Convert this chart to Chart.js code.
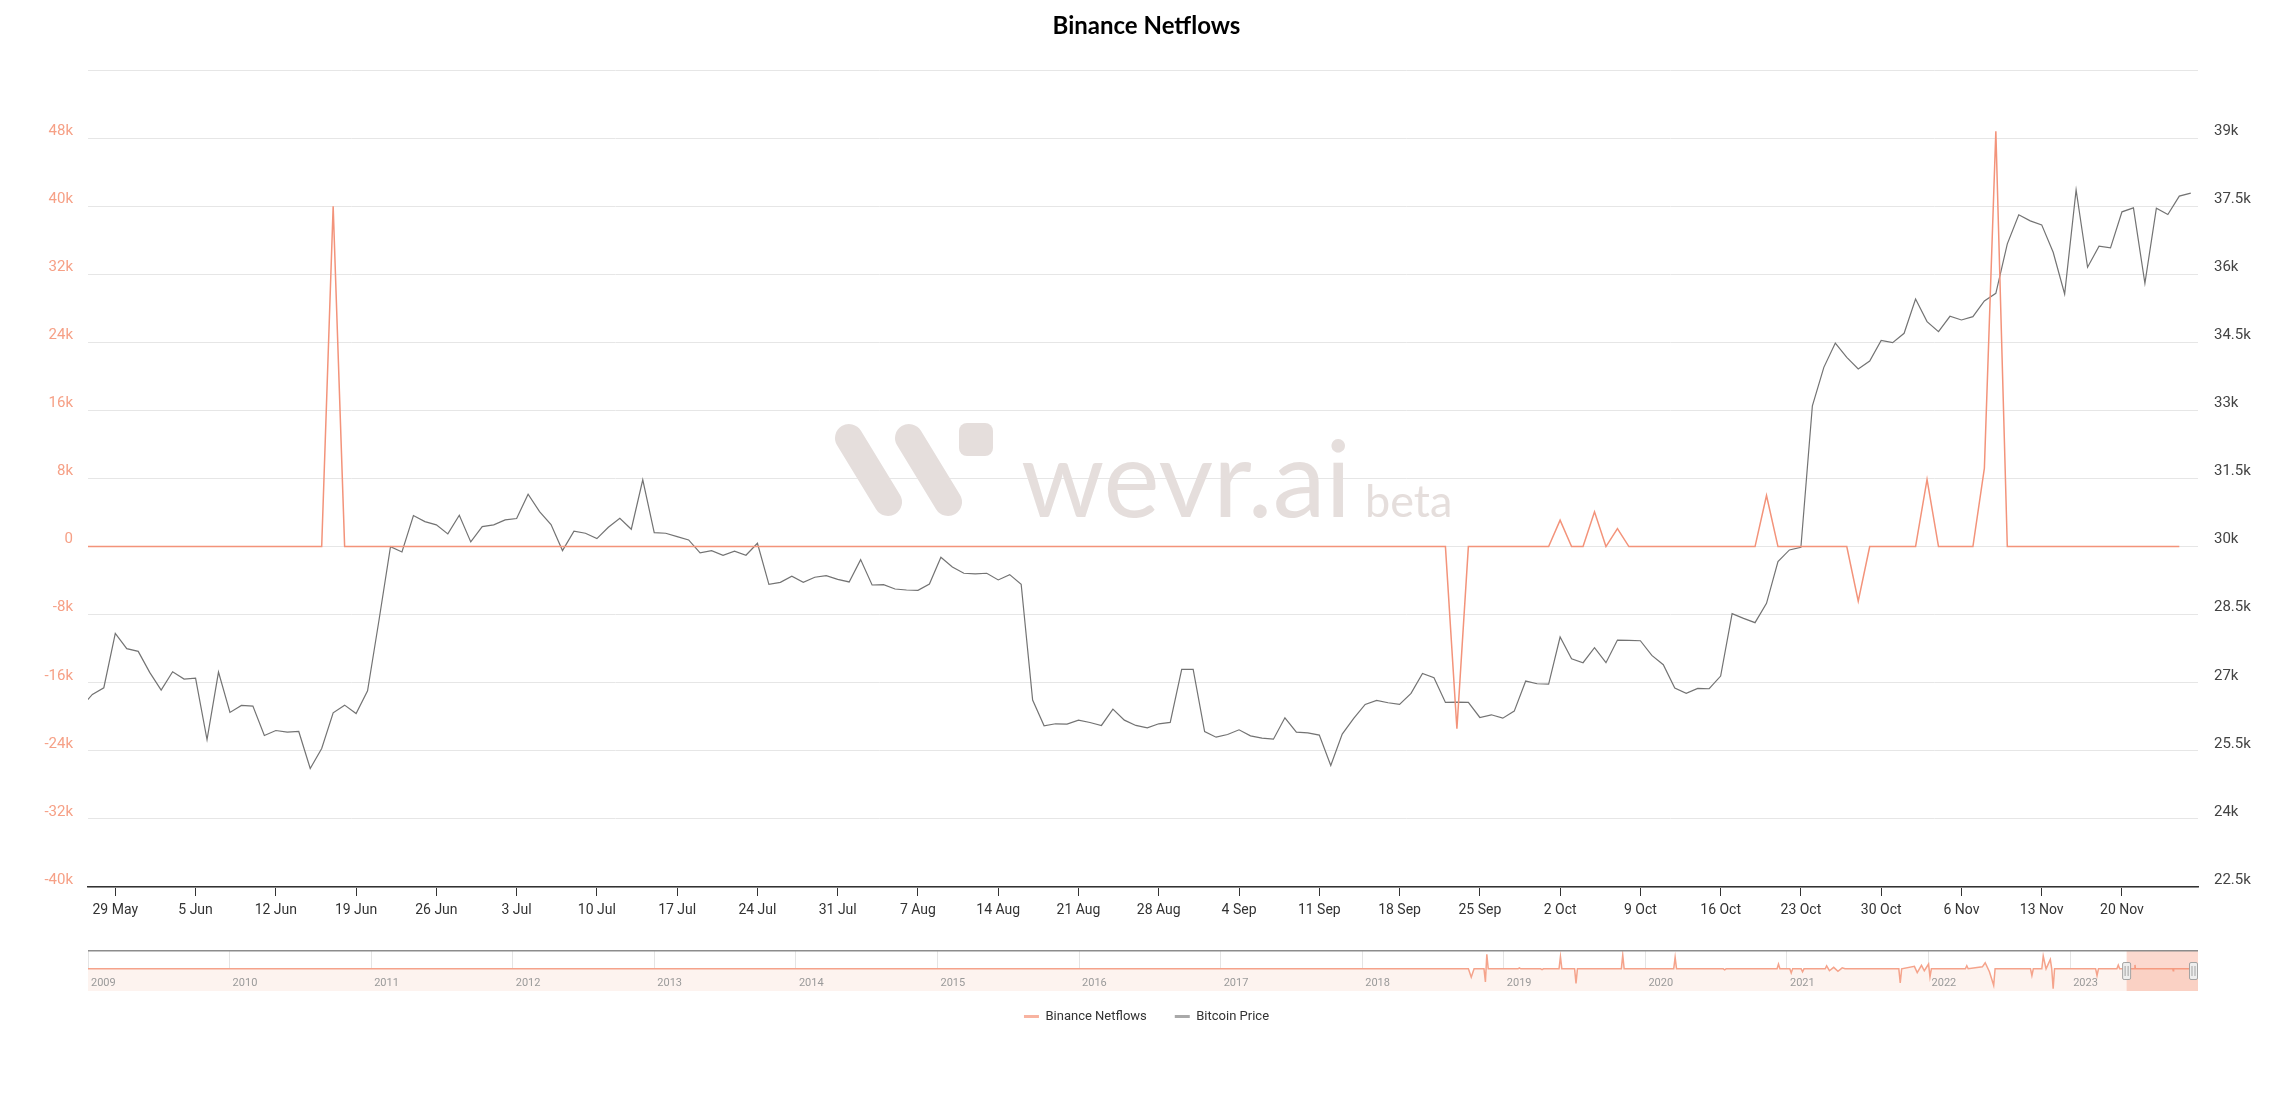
<!DOCTYPE html>
<html>
<head>
<meta charset="utf-8">
<title>Binance Netflows</title>
<script src="https://cdn.jsdelivr.net/npm/chart.js@4.4.0/dist/chart.umd.min.js"></script>
<style>
  html, body { margin: 0; padding: 0; background: #fff; }
  #wrap { position: relative; width: 2293px; height: 1106px; }
  #main { position: absolute; left: 0; top: 0; }
  #overview { position: absolute; left: 88px; top: 950px; }
</style>
</head>
<body>
<div id="wrap">
  <canvas id="main" width="2293" height="1106"></canvas>
  <canvas id="overview" width="2110" height="41"></canvas>
</div>
<script>
// daily values, first day = 26 May 2023
const priceMay = [26456, 26743, 26890, 28088, 27750, 27691];
const priceJun = [27228, 26838, 27243, 27081, 27103, 25750, 27235, 26346, 26500, 26485,
                  25838, 25948, 25912, 25926, 25110, 25551, 26338, 26507, 26323, 26824,
                  28382, 30000, 29882, 30684, 30551, 30478, 30279, 30691, 30103, 30441];
const priceJul = [30478, 30588, 30618, 31154, 30772, 30485, 29912, 30338, 30294, 30176,
                  30426, 30625, 30382, 31471, 30309, 30294, 30221, 30147, 29860, 29912,
                  29809, 29897, 29809, 30074, 29169, 29213, 29346, 29213, 29324, 29360, 29279];
const priceAug = [29221, 29713, 29154, 29162, 29066, 29044, 29037, 29176, 29765, 29551,
                  29412, 29397, 29412, 29265, 29382, 29169, 26618, 26051, 26096, 26088,
                  26176, 26125, 26059, 26419, 26176, 26059, 26007, 26096, 26125, 27294, 27294];
const priceSep = [25926, 25801, 25860, 25963, 25831, 25779, 25757, 26228, 25912, 25897,
                  25846, 25176, 25868, 26213, 26522, 26610, 26559, 26522, 26765, 27206,
                  27110, 26566, 26574, 26566, 26235, 26294, 26220, 26375, 27037, 26978];
const priceOct = [26971, 28007, 27529, 27441, 27772, 27441, 27941, 27934, 27926, 27603,
                  27397, 26882, 26765, 26875, 26868, 27147, 28522, 28419, 28324, 28750,
                  29669, 29926, 29985, 33103, 33949, 34485, 34169, 33912, 34088, 34544, 34493];
const priceNov = [34699, 35456, 34956, 34735, 35074, 34993, 35066, 35412, 35581, 36669,
                  37309, 37176, 37088, 36485, 35566, 37860, 36154, 36618, 36581, 37375,
                  37463, 35801, 37456, 37316, 37721, 37787];

const flowMay = [0, 0, 0, 0, 0, 0];
const flowJun = [0, 0, 0, 0, 0, 0, 0, 0, 0, 0, 0, 0, 0, 0, 0, 0, 40000, 0, 0, 0,
                 0, 0, 0, 0, 0, 0, 0, 0, 0, 0];
const flowJul = [0, 0, 0, 0, 0, 0, 0, 0, 0, 0, 0, 0, 0, 0, 0, 0, 0, 0, 0, 0,
                 0, 0, 0, 0, 0, 0, 0, 0, 0, 0, 0];
const flowAug = [0, 0, 0, 0, 0, 0, 0, 0, 0, 0, 0, 0, 0, 0, 0, 0, 0, 0, 0, 0,
                 0, 0, 0, 0, 0, 0, 0, 0, 0, 0, 0];
const flowSep = [0, 0, 0, 0, 0, 0, 0, 0, 0, 0, 0, 0, 0, 0, 0, 0, 0, 0, 0, 0,
                 0, 0, -21400, 0, 0, 0, 0, 0, 0, 0];
const flowOct = [0, 3100, 0, 0, 4080, 0, 2100, 0, 0, 0, 0, 0, 0, 0, 0, 0, 0, 0, 0, 6000,
                 0, 0, 0, 0, 0, 0, 0, -6400, 0, 0, 0];
const flowNov = [0, 0, 7900, 0, 0, 0, 0, 9200, 48800, 0, 0, 0, 0, 0, 0, 0, 0, 0, 0, 0,
                 0, 0, 0, 0, 0];

// weekly ticks, first one is day 3 (29 May)
const tickLabels = ['29 May', '5 Jun', '12 Jun', '19 Jun', '26 Jun', '3 Jul', '10 Jul', '17 Jul',
                    '24 Jul', '31 Jul', '7 Aug', '14 Aug', '21 Aug', '28 Aug', '4 Sep', '11 Sep',
                    '18 Sep', '25 Sep', '2 Oct', '9 Oct', '16 Oct', '23 Oct', '30 Oct', '6 Nov',
                    '13 Nov', '20 Nov'];

// overview (data zoom) series: [year, netflow in thousands]
const overviewPoints = [
  [2009.0, 0], [2018.75, 0], [2018.77, -86], [2018.79, 0], [2018.86, 0], [2018.87, -135],
  [2018.88, 150], [2018.89, 0], [2019.10, 0], [2019.11, 10], [2019.12, 0], [2019.26, 0],
  [2019.27, -8], [2019.28, 0], [2019.39, 0], [2019.40, 125], [2019.41, 0], [2019.50, 0],
  [2019.51, -152], [2019.52, 0], [2019.83, 0], [2019.84, 142], [2019.85, 0], [2020.20, 0],
  [2020.21, 118], [2020.22, 0], [2020.55, 0], [2020.56, -10], [2020.57, 0], [2020.93, 0],
  [2020.94, 49], [2020.95, 0], [2021.02, 0], [2021.03, -42], [2021.04, 0], [2021.10, 0],
  [2021.11, -30], [2021.12, 0], [2021.27, 0], [2021.28, 30], [2021.30, -20], [2021.33, 15],
  [2021.36, -25], [2021.39, 10], [2021.41, 0], [2021.79, 0], [2021.80, -146], [2021.81, 0],
  [2021.90, 25], [2021.92, -40], [2021.95, 35], [2021.97, -20], [2022.00, 49], [2022.01, -83],
  [2022.02, 0], [2022.26, 0], [2022.27, 31], [2022.28, 0], [2022.38, 20], [2022.40, 62],
  [2022.43, -30], [2022.46, -170], [2022.47, 0], [2022.72, 0], [2022.73, -70], [2022.74, 0],
  [2022.80, 0], [2022.81, 132], [2022.83, 0], [2022.86, 97], [2022.87, 0], [2022.88, -204],
  [2022.89, 0], [2023.18, 0], [2023.19, -70], [2023.20, 0], [2023.33, 0], [2023.34, 38],
  [2023.35, 0], [2023.455, 0], [2023.458, 40], [2023.461, 0], [2023.725, 0], [2023.728, -21],
  [2023.731, 0], [2023.852, 0], [2023.855, 49], [2023.858, 0], [2023.903, 0]
];
const overviewYearTicks = [2009, 2010, 2011, 2012, 2013, 2014, 2015, 2016, 2017, 2018, 2019,
                           2020, 2021, 2022, 2023];

const btcPrice = [].concat(priceMay, priceJun, priceJul, priceAug, priceSep, priceOct, priceNov);
const netflow = [].concat(flowMay, flowJun, flowJul, flowAug, flowSep, flowOct, flowNov);

// visible window, in days after 26 May
const viewStart = 0.62;
const viewEnd = 184.63;
const dayOfYearStart = 145; // 26 May 2023
const toYear = d => 2023 + (dayOfYearStart + d) / 365;

const salmon = '#f3937a';
const tickFont = { family: 'Roboto', size: 15 };

const watermark = {
  id: 'watermark',
  beforeDatasetsDraw(chart) {
    const ctx = chart.ctx;
    ctx.save();
    ctx.strokeStyle = '#e5dedc';
    ctx.fillStyle = '#e5dedc';
    ctx.lineCap = 'round';
    ctx.lineWidth = 28;
    ctx.beginPath();
    ctx.moveTo(849, 438); ctx.lineTo(888, 502);
    ctx.moveTo(909, 438); ctx.lineTo(948, 502);
    ctx.stroke();
    ctx.beginPath();
    ctx.roundRect(959, 423, 34, 33, 8);
    ctx.fill();
    ctx.textBaseline = 'alphabetic';
    ctx.font = '110px Lato';
    let w = ctx.measureText('wevr.ai').width;
    ctx.font = (110 * 330 / w).toFixed(1) + 'px Lato';
    ctx.fillText('wevr.ai', 1021, 517);
    ctx.font = '45px Lato';
    ctx.fillText('beta', 1365, 517);
    ctx.restore();
  }
};

new Chart(document.getElementById('main'), {
  type: 'line',
  data: {
    datasets: [
      {
        label: 'Binance Netflows',
        data: netflow.map((v, i) => ({ x: i, y: v })),
        yAxisID: 'yFlow',
        borderColor: salmon,
        backgroundColor: salmon,
        borderWidth: 1.5,
        pointRadius: 0,
        tension: 0
      },
      {
        label: 'Bitcoin Price',
        data: btcPrice.map((v, i) => ({ x: i, y: v })),
        yAxisID: 'yPrice',
        borderColor: '#737373',
        backgroundColor: '#737373',
        borderWidth: 1.2,
        pointRadius: 0,
        tension: 0
      }
    ]
  },
  options: {
    responsive: false,
    animation: false,
    devicePixelRatio: 1,
    layout: { padding: { left: 0, right: 0, top: 0, bottom: 73 } },
    plugins: {
      title: {
        display: true,
        text: 'Binance Netflows',
        color: '#000',
        font: { family: 'Lato', size: 24, weight: 'bold' },
        padding: { top: 11.6, bottom: 29.6 }
      },
      legend: {
        position: 'bottom',
        labels: {
          usePointStyle: true,
          pointStyle: 'line',
          pointStyleWidth: 15,
          padding: 28,
          color: '#333',
          font: { family: 'Roboto', size: 13 },
          generateLabels: chart => Chart.defaults.plugins.legend.labels.generateLabels(chart)
            .map((it, i) => Object.assign(it, { strokeStyle: i ? '#a9a9a9' : '#f8b3a0', lineWidth: 3 }))
        }
      },
      tooltip: { enabled: false }
    },
    scales: {
      x: {
        type: 'linear',
        min: viewStart,
        max: viewEnd,
        afterBuildTicks: s => { s.ticks = tickLabels.map((t, k) => ({ value: 3 + 7 * k })); },
        afterFit: s => { s.height = 95; },
        ticks: {
          callback: (v, i) => tickLabels[i],
          color: '#333',
          font: { family: 'Roboto', size: 14 },
          padding: 6,
          maxRotation: 0,
          autoSkip: false
        },
        grid: { drawOnChartArea: false, tickLength: 9, color: '#333' },
        border: { color: '#333', width: 1.5 }
      },
      yFlow: {
        position: 'left',
        min: -40000,
        max: 56000,
        afterFit: s => { s.width = 88; },
        ticks: {
          stepSize: 8000,
          color: '#f6a086',
          font: tickFont,
          padding: 15,
          labelOffset: -7,
          callback: v => v === 56000 ? '' : (v === 0 ? '0' : (v / 1000) + 'k')
        },
        grid: { color: '#e6e6e6', drawTicks: false },
        border: { display: false }
      },
      yPrice: {
        position: 'right',
        min: 22500,
        max: 40500,
        afterFit: s => { s.width = 95; },
        ticks: {
          stepSize: 1500,
          color: '#444',
          font: tickFont,
          padding: 16,
          labelOffset: -7,
          callback: v => v === 40500 ? '' : (v / 1000) + 'k'
        },
        grid: { drawOnChartArea: false, drawTicks: false },
        border: { display: false }
      }
    }
  },
  plugins: [watermark]
});

const overviewDecor = {
  id: 'overviewDecor',
  afterDraw(chart) {
    const ctx = chart.ctx;
    const xs = chart.scales.x;
    const h = chart.height;
    const a = xs.getPixelForValue(toYear(viewStart));
    const b = xs.getPixelForValue(toYear(viewEnd));
    ctx.save();
    ctx.fillStyle = 'rgba(247, 140, 108, 0.33)';
    ctx.fillRect(a, 0, b - a, h);
    ctx.strokeStyle = '#8c8c8c';
    ctx.lineWidth = 1.5;
    ctx.beginPath(); ctx.moveTo(0, 0.75); ctx.lineTo(chart.width, 0.75); ctx.stroke();
    ctx.fillStyle = '#9a9a9a';
    ctx.font = '11px Roboto';
    ctx.textBaseline = 'middle';
    overviewYearTicks.forEach(y => ctx.fillText(String(y), xs.getPixelForValue(y) + 3, 33));
    [a, b].forEach(x => {
      x = Math.min(Math.max(x, 4.5), chart.width - 4.5);
      ctx.fillStyle = '#eeeeee';
      ctx.strokeStyle = '#a3a3a3';
      ctx.lineWidth = 1;
      ctx.beginPath(); ctx.roundRect(x - 4, 12.5, 8, 17, 1.5); ctx.fill(); ctx.stroke();
      ctx.beginPath();
      ctx.moveTo(x - 1.5, 16); ctx.lineTo(x - 1.5, 26);
      ctx.moveTo(x + 1.5, 16); ctx.lineTo(x + 1.5, 26);
      ctx.stroke();
    });
    ctx.restore();
  }
};

new Chart(document.getElementById('overview'), {
  type: 'line',
  data: {
    datasets: [{
      data: overviewPoints.map(p => ({ x: p[0], y: p[1] })),
      borderColor: '#f5a38b',
      backgroundColor: '#fdf3ef',
      borderWidth: 1.5,
      pointRadius: 0,
      fill: 'start',
      tension: 0
    }]
  },
  options: {
    responsive: false,
    animation: false,
    devicePixelRatio: 1,
    layout: { padding: 0 },
    plugins: { legend: { display: false }, title: { display: false }, tooltip: { enabled: false } },
    scales: {
      x: {
        type: 'linear',
        min: 2009,
        max: toYear(viewEnd),
        afterBuildTicks: s => { s.ticks = overviewYearTicks.map(v => ({ value: v })); },
        ticks: { display: false },
        grid: { color: '#e4e4e4', drawTicks: false },
        border: { display: false }
      },
      y: { display: false, min: -229, max: 194 }
    }
  },
  plugins: [overviewDecor]
});
</script>
</body>
</html>
